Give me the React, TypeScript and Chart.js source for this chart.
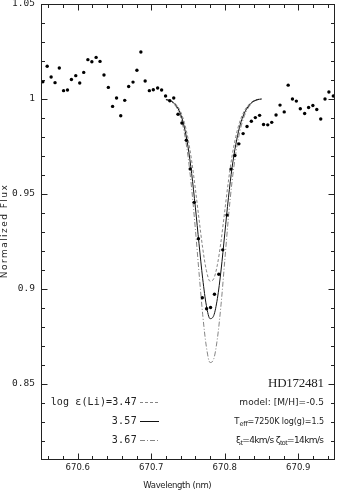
import React, { useEffect, useRef } from 'react';
import { Chart, registerables } from 'chart.js';

Chart.register(...registerables);

// ---------- data ----------
const obsWavelength = [
  670.5525, 670.5584, 670.5638, 670.5691, 670.5749, 670.5807, 670.5860, 670.5914, 670.5973, 670.6027,
  670.6081, 670.6138, 670.6192, 670.6250, 670.6303, 670.6357, 670.6416, 670.6474, 670.6528, 670.6585,
  670.6639, 670.6693, 670.6752, 670.6805, 670.6859, 670.6917, 670.6974, 670.7028, 670.7087, 670.7141,
  670.7195, 670.7252, 670.7306, 670.7364, 670.7417, 670.7477, 670.7530, 670.7584, 670.7642, 670.7695,
  670.7753, 670.7807, 670.7860, 670.7919, 670.7973, 670.8031, 670.8085, 670.8138, 670.8192, 670.8250,
  670.8303, 670.8362, 670.8416, 670.8474, 670.8528, 670.8585, 670.8639, 670.8698, 670.8752, 670.8809,
  670.8863, 670.8921, 670.8974, 670.9028, 670.9087, 670.9141, 670.9199, 670.9252, 670.9306, 670.9364,
  670.9417, 670.9477,
];
const obsFlux = [
  1.0091, 1.0172, 1.0116, 1.0086, 1.0163, 1.0044, 1.0047, 1.0103, 1.0123, 1.0084,
  1.0140, 1.0207, 1.0196, 1.0219, 1.0198, 1.0126, 1.0061, 0.9961, 1.0005, 0.9912,
  0.9993, 1.0066, 1.0089, 1.0151, 1.0247, 1.0095, 1.0044, 1.0049, 1.0058, 1.0047,
  1.0016, 0.9991, 1.0005, 0.9920, 0.9874, 0.9783, 0.9632, 0.9456, 0.9265, 0.8954,
  0.8896, 0.8903, 0.8972, 0.9078, 0.9206, 0.9389, 0.9631, 0.9703, 0.9764, 0.9818,
  0.9855, 0.9883, 0.9902, 0.9914, 0.9866, 0.9864, 0.9877, 0.9916, 0.9968, 0.9932,
  1.0073, 1.0000, 0.9989, 0.9949, 0.9924, 0.9955, 0.9966, 0.9945, 0.9895, 1.0000,
  1.0037, 1.0016,
];

const modelWavelength = [
  670.720, 670.725, 670.730, 670.735, 670.740, 670.745, 670.750, 670.755, 670.760,
  670.765, 670.770, 670.775, 670.780, 670.785, 670.790, 670.795, 670.800, 670.805,
  670.810, 670.815, 670.820, 670.825, 670.830, 670.835, 670.840, 670.845, 670.850,
];
const flux347 = [
  0.9998, 0.9993, 0.9984, 0.9966, 0.9933, 0.9877, 0.9792, 0.9674, 0.9528,
  0.9368, 0.9215, 0.9098, 0.9041, 0.9054, 0.9128, 0.9253, 0.9411, 0.9568,
  0.9701, 0.9801, 0.9875, 0.9925, 0.9958, 0.9979, 0.9992, 0.9998, 1.0000,
];
const flux357 = [
  0.9997, 0.9992, 0.9981, 0.9959, 0.9919, 0.9852, 0.9749, 0.9607, 0.9431,
  0.9238, 0.9054, 0.8913, 0.8844, 0.8860, 0.8950, 0.9100, 0.9290, 0.9480,
  0.9640, 0.9760, 0.9850, 0.9910, 0.9950, 0.9975, 0.9990, 0.9997, 1.0000,
];
const flux367 = [
  0.9996, 0.9990, 0.9977, 0.9951, 0.9903, 0.9822, 0.9699, 0.9528, 0.9317,
  0.9086, 0.8865, 0.8696, 0.8613, 0.8632, 0.8740, 0.8920, 0.9148, 0.9376,
  0.9568, 0.9712, 0.9820, 0.9892, 0.9940, 0.9970, 0.9988, 0.9996, 1.0000,
];

const xMajorTicks = [670.6, 670.7, 670.8, 670.9];
const xMinorTicks = [
  670.56, 670.58, 670.62, 670.64, 670.66, 670.68, 670.72, 670.74, 670.76, 670.78,
  670.82, 670.84, 670.86, 670.88, 670.92, 670.94,
];
const yMajorTicks = [0.85, 0.9, 0.95, 1, 1.05];
const yMinorTicks = [
  0.82, 0.83, 0.84, 0.86, 0.87, 0.88, 0.89, 0.91, 0.92, 0.93, 0.94,
  0.96, 0.97, 0.98, 0.99, 1.01, 1.02, 1.03, 1.04,
];

const abundanceLabels = ['3.47', '3.57', '3.67'];
const starName = 'HD172481';

// ---------- helpers ----------
const SANS = '"DejaVu Sans", sans-serif';
const MONO = '"DejaVu Sans Mono", monospace';
const SERIF = '"Liberation Serif", serif';
const INK = '#222';

type Part = { text: string; size: number; dy?: number };

function drawFitted(
  ctx: CanvasRenderingContext2D,
  parts: Part[],
  anchorX: number,
  yMid: number,
  target: number,
  family: string,
  align: 'right' | 'center' | 'left'
) {
  ctx.save();
  (ctx as any).letterSpacing = '0px';
  let natural = 0;
  let n = 0;
  for (const p of parts) {
    ctx.font = `${p.size}px ${family}`;
    natural += ctx.measureText(p.text).width;
    n += Array.from(p.text).length;
  }
  const sp = n > 1 ? (target - natural) / (n - 1) : 0;
  let x = align === 'right' ? anchorX - target : align === 'center' ? anchorX - target / 2 : anchorX;
  ctx.textAlign = 'left';
  ctx.textBaseline = 'middle';
  ctx.fillStyle = INK;
  for (const p of parts) {
    ctx.font = `${p.size}px ${family}`;
    (ctx as any).letterSpacing = '0px';
    const w = ctx.measureText(p.text).width;
    (ctx as any).letterSpacing = `${sp}px`;
    ctx.fillText(p.text, x, yMid + (p.dy || 0));
    x += w + sp * Array.from(p.text).length;
  }
  (ctx as any).letterSpacing = '0px';
  ctx.restore();
}

const framePlugin = {
  id: 'frameAndText',
  afterDraw(chart: any) {
    const ctx: CanvasRenderingContext2D = chart.ctx;
    const xs = chart.scales.x;
    const ys = chart.scales.y;
    const { left, right, top, bottom } = chart.chartArea;
    const L = Math.round(left) + 0.5;
    const R = Math.round(right) - 0.5;
    const T = Math.round(top) + 0.5;
    const B = Math.round(bottom) - 0.5;
    ctx.save();
    ctx.strokeStyle = INK;
    ctx.lineWidth = 1;
    ctx.strokeRect(L, T, R - L, B - T);
    ctx.beginPath();
    const xt = (v: number, len: number) => {
      const p = Math.round(xs.getPixelForValue(v)) + 0.5;
      ctx.moveTo(p, B);
      ctx.lineTo(p, B - len);
      ctx.moveTo(p, T);
      ctx.lineTo(p, T + len);
    };
    const yt = (v: number, len: number) => {
      const p = Math.round(ys.getPixelForValue(v)) + 0.5;
      ctx.moveTo(L, p);
      ctx.lineTo(L + len, p);
      ctx.moveTo(R, p);
      ctx.lineTo(R - len, p);
    };
    xMajorTicks.forEach((v) => xt(v, 6));
    xMinorTicks.forEach((v) => xt(v, 3.5));
    yMajorTicks.forEach((v) => yt(v, 6));
    yMinorTicks.forEach((v) => yt(v, 3.5));
    ctx.stroke();

    // legend samples
    ctx.lineWidth = 0.9;
    ctx.strokeStyle = '#777';
    ctx.setLineDash([3, 2]);
    ctx.beginPath();
    ctx.moveTo(140, 402.5);
    ctx.lineTo(160, 402.5);
    ctx.stroke();
    ctx.strokeStyle = '#111';
    ctx.lineWidth = 1;
    ctx.setLineDash([]);
    ctx.beginPath();
    ctx.moveTo(140, 421.5);
    ctx.lineTo(159, 421.5);
    ctx.stroke();
    ctx.strokeStyle = '#777';
    ctx.lineWidth = 0.9;
    ctx.setLineDash([5, 2, 1, 2]);
    ctx.beginPath();
    ctx.moveTo(140, 440.5);
    ctx.lineTo(160, 440.5);
    ctx.stroke();
    ctx.setLineDash([]);
    ctx.restore();

    // legend text
    drawFitted(ctx, [{ text: `log ε(Li)=${abundanceLabels[0]}`, size: 10 }], 136.7, 402.7, 86, MONO, 'right');
    drawFitted(ctx, [{ text: abundanceLabels[1], size: 10 }], 136.7, 421.7, 25, MONO, 'right');
    drawFitted(ctx, [{ text: abundanceLabels[2], size: 10 }], 136.7, 440.7, 25, MONO, 'right');

    // star + model text
    drawFitted(ctx, [{ text: starName, size: 13 }], 324, 383.3, 56, SERIF, 'right');
    drawFitted(ctx, [{ text: 'model: [M/H]=-0.5', size: 9 }], 324, 402.7, 84.7, SANS, 'right');
    drawFitted(
      ctx,
      [
        { text: 'T', size: 8.5 },
        { text: 'eff', size: 6.5, dy: 2.5 },
        { text: '=7250K log(g)=1.5', size: 8 },
      ],
      324, 422, 89.7, SANS, 'right'
    );
    drawFitted(
      ctx,
      [
        { text: 'ξ', size: 9 },
        { text: 't', size: 6.5, dy: 2.5 },
        { text: '=4km/s ', size: 9 },
        { text: 'ζ', size: 9 },
        { text: 'tot', size: 6.5, dy: 2.5 },
        { text: '=14km/s', size: 9 },
      ],
      324, 440.7, 88, SANS, 'right'
    );

    // axis titles
    drawFitted(ctx, [{ text: 'Wavelength (nm)', size: 8.5 }], 177.5, 486, 68.3, SANS, 'center');
    ctx.save();
    ctx.translate(4.5, 231.7);
    ctx.rotate(-Math.PI / 2);
    drawFitted(ctx, [{ text: 'Normalized Flux', size: 9 }], 0, 0, 93, SANS, 'center');
    ctx.restore();
  },
};

export default function App() {
  const ref = useRef<HTMLCanvasElement | null>(null);

  useEffect(() => {
    if (!ref.current) return;
    const obs = obsWavelength.map((x, i) => ({ x, y: obsFlux[i] }));
    const mk = (arr: number[]) => modelWavelength.map((x, i) => ({ x, y: arr[i] }));
    const chart = new Chart(ref.current, {
      type: 'scatter',
      data: {
        datasets: [
          {
            label: 'observed',
            data: obs,
            showLine: false,
            pointRadius: 1.7,
            pointBorderWidth: 0,
            pointBackgroundColor: '#000',
            backgroundColor: '#000',
          },
          {
            label: 'log ε(Li)=3.57',
            data: mk(flux357),
            showLine: true,
            pointRadius: 0,
            borderColor: '#111',
            borderWidth: 1,
            cubicInterpolationMode: 'monotone',
          },
          {
            label: 'log ε(Li)=3.47',
            data: mk(flux347),
            showLine: true,
            pointRadius: 0,
            borderColor: '#777',
            borderWidth: 0.9,
            borderDash: [3, 2],
            cubicInterpolationMode: 'monotone',
          },
          {
            label: 'log ε(Li)=3.67',
            data: mk(flux367),
            showLine: true,
            pointRadius: 0,
            borderColor: '#777',
            borderWidth: 0.9,
            borderDash: [5, 2, 1, 2],
            cubicInterpolationMode: 'monotone',
          },
        ],
      },
      options: {
        responsive: false,
        animation: false,
        devicePixelRatio: 1,
        layout: { padding: { left: 0, right: 3, top: 3, bottom: 0 } },
        plugins: {
          legend: { display: false },
          tooltip: { enabled: false },
        },
        scales: {
          x: {
            type: 'linear',
            min: 670.55,
            max: 670.95,
            grid: { display: false, drawTicks: false },
            border: { display: false },
            afterBuildTicks: (s: any) => {
              s.ticks = xMajorTicks.map((value) => ({ value }));
            },
            afterFit: (s: any) => {
              s.height = 37;
              s.paddingLeft = 0;
              s.paddingRight = 0;
            },
            ticks: {
              autoSkip: false,
              maxRotation: 0,
              padding: 3,
              color: INK,
              font: { family: SANS, size: 8.5 },
              callback: (v: any) => Number(v).toFixed(1),
            },
          },
          y: {
            type: 'linear',
            min: 0.81,
            max: 1.05,
            grid: { display: false, drawTicks: false },
            border: { display: false },
            afterBuildTicks: (s: any) => {
              s.ticks = yMajorTicks.map((value) => ({ value }));
            },
            afterFit: (s: any) => {
              s.width = 41;
              s.paddingTop = 0;
              s.paddingBottom = 0;
            },
            ticks: {
              autoSkip: false,
              padding: 6,
              color: INK,
              font: { family: MONO, size: 9.5 },
              callback: (v: any) => String(Number(v)),
            },
          },
        },
      },
      plugins: [framePlugin],
    });
    return () => chart.destroy();
  }, []);

  return (
    <div style={{ position: 'absolute', left: 0, top: 0, width: 339, height: 497, background: '#fff' }}>
      <canvas ref={ref} width={339} height={497} style={{ display: 'block' }} />
    </div>
  );
}
